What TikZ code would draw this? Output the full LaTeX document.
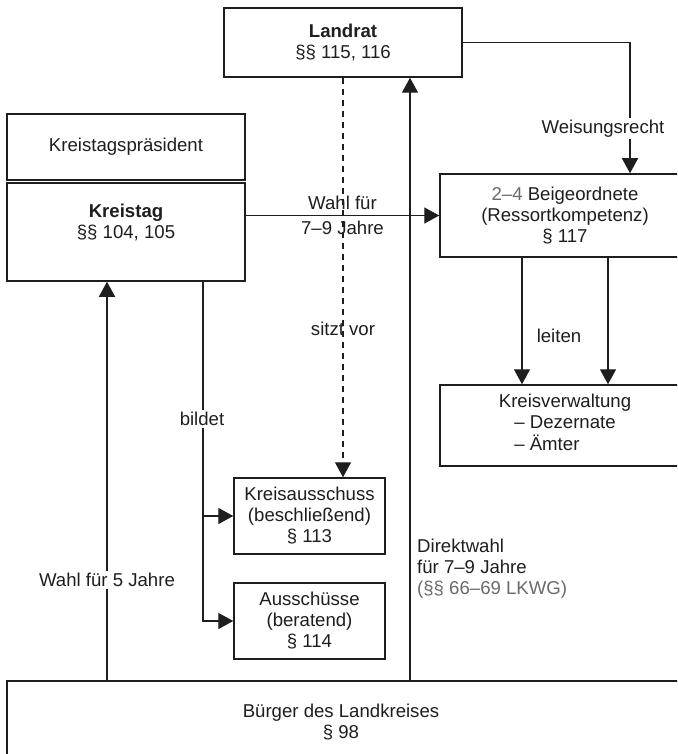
\documentclass[tikz,border=0pt]{standalone}
\usepackage{fontspec}
\setmainfont{Liberation Sans}
\usepackage{xcolor}
\usepackage{tikz}
\usetikzlibrary{arrows.meta,positioning,calc}
\definecolor{ink}{HTML}{1E1E1E}
\definecolor{grau}{HTML}{6A6A6A}

\begin{document}
\begin{tikzpicture}[x=1pt,y=-1pt,
    every node/.append style={font=\fontsize{18.6}{21}\selectfont,text=ink},
    kasten/.style={draw=ink,line width=1.5pt,inner sep=0pt,align=center},
    pfeil/.style={draw=ink,line width=1.4pt,-{Triangle[length=15pt,width=16pt]}},
    marke/.style={inner sep=2pt,align=center}]
  \useasboundingbox (0,0) rectangle (677,754);
  \clip (0,0) rectangle (677,754);
  \fill[white] (0,0) rectangle (677,754);

  % Kaesten
  \node[kasten,minimum width=238pt,minimum height=69pt] (landrat) at (343,42.5)
    {\textbf{Landrat}\\§§ 115, 116};
  \node[kasten,minimum width=238pt,minimum height=66pt] (praes) at (126,147)
    {Kreistagspräsident};
  \node[kasten,minimum width=238pt,minimum height=98pt] (kreistag) at (126,232)
    {\textbf{Kreistag}\\§§ 104, 105\\ \mbox{}};
  \node[kasten,minimum width=250pt,minimum height=83pt] (beig) at (565,215.5)
    {{\color{grau}2–4} Beigeordnete\\(Ressortkompetenz)\\§ 117};
  \node[kasten,minimum width=250pt,minimum height=81pt] (verw) at (565,425.5)
    {Kreisverwaltung\\\begin{tabular}[t]{@{}l@{}}– Dezernate\\– Ämter\end{tabular}};
  \node[kasten,minimum width=151pt,minimum height=76pt] (kaus) at (309.5,516)
    {Kreisausschuss\\(beschließend)\\§ 113};
  \node[kasten,minimum width=151pt,minimum height=76pt] (aus) at (309.5,621)
    {Ausschüsse\\(beratend)\\§ 114};
  \draw[draw=ink,line width=1.5pt] (7,681) rectangle (720,800);
  \coordinate (btop) at (7,681);
  \node[marke] (buerger) at (341,722.5) {Bürger des Landkreises\\§ 98};

  % Verbindungen
  \draw[pfeil] (landrat.east) -| ([xshift=65pt]beig.north)
    node[marke,pos=0.83,xshift=-27pt,fill=white] (weisung) {Weisungsrecht};
  \draw[pfeil] (beig.west -| kreistag.east) -- (beig.west)
    node[marke,pos=0.5,above=3pt] (wahla) {Wahl für}
    node[marke,pos=0.5,below=3pt] (wahlb) {7–9 Jahre};
  \draw[pfeil,dash pattern=on 6pt off 5pt] (landrat.south) -- (landrat.south |- kaus.north)
    node[marke,pos=0.628] (sitzt) {sitzt vor};
  \draw[pfeil] ([xshift=67pt]landrat.south |- btop) -- ([xshift=67pt]landrat.south);
  \draw[pfeil] ([xshift=-19pt]kreistag.south |- btop) -- ([xshift=-19pt]kreistag.south)
    node[marke,pos=0.2525,fill=white] (wahlfuenf) {Wahl für 5 Jahre};
  \draw[pfeil] ([xshift=77pt]kreistag.south) |- (aus.west);
  \draw[pfeil] ([xshift=77pt]kreistag.south |- kaus.west) -- (kaus.west);
  \draw[pfeil] ([xshift=-43pt]beig.south) -- ([xshift=-43pt]verw.north);
  \draw[pfeil] ([xshift=43pt]beig.south) -- ([xshift=43pt]verw.north);

  % freie Beschriftungen
  \node[marke,fill=white] (bildet) at (202,419) {bildet};
  \node[marke] (leiten) at (559,336) {leiten};
  \node[marke,align=left,anchor=west] (direkt) at (415,569)
    {Direktwahl\\für 7–9 Jahre\\{\color{grau}(§§ 66–69 LKWG)}};
\end{tikzpicture}
\end{document}
